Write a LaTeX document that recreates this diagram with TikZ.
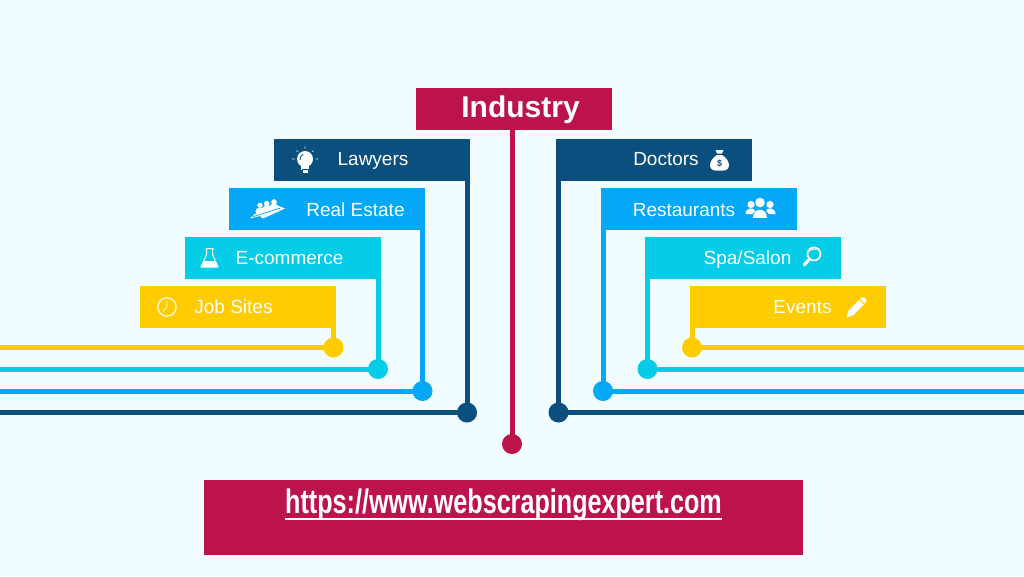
\documentclass[tikz,border=0pt]{standalone}
\usepackage{fontspec}
\usepackage{xcolor}
\setmainfont{Liberation Sans}
\newfontfamily\urlfont[FakeStretch=0.74]{Liberation Sans Bold}
\usepackage{tikz}
\usetikzlibrary{positioning}
\definecolor{pagebg}{HTML}{F0FCFF}
\definecolor{navyc}{HTML}{0A4F7E}
\definecolor{bluec}{HTML}{05A8F7}
\definecolor{cyanc}{HTML}{05CDE8}
\definecolor{goldc}{HTML}{FFCC00}
\definecolor{crimsonc}{HTML}{BC134B}
\tikzset{
  bulbicon/.pic={
    \fill[white] (0,-2) circle (8);
    \fill[white] (-4,3) rectangle (4,9);
    \fill[white] (-2.5,9) rectangle (2.5,12);
    \draw[navyc, line width=0.8pt] (-4.9,-1.1) arc (170:250:5);
    \draw[navyc, line width=0.6pt] (-3.5,8) -- (3.5,8);
    \draw[white, line width=0.6pt] (0,-12.5) -- (0,-14.5) (8.5,-10.5) -- (7,-9) (-8.5,-10.5) -- (-7,-9)
      (-13,-2) -- (-10.5,-2) (10.5,-2) -- (13,-2);
  },
  teamicon/.pic={
    \fill[white] (7,-6) circle (2.8) (-0.3,-4.3) circle (2.8) (-7,-2.7) circle (2.6);
    \fill[white] (7,0) ellipse (5 and 4.5) (-0.3,2) ellipse (5 and 4.5) (-7,3.5) ellipse (4.5 and 4);
    \fill[white] (-17,10.5) -- (-12,6) -- (12,-2) -- (18,0.5) -- (-4,10.5) -- (-7,8) -- cycle;
    \draw[bluec, line width=0.7pt] (-14,8.7) -- (13,0.2);
  },
  flaskicon/.pic={
    \draw[white, line width=1pt, line join=round] (-4,-8) -- (4,-8) (-3,-8) -- (-3,-2) -- (-8.5,10.5) -- (8.5,10.5) -- (3,-2) -- (3,-8);
    \fill[white] (-5.8,4.5) -- (5.8,4.5) -- (8.5,10.5) -- (-8.5,10.5) -- cycle;
  },
  clockicon/.pic={
    \draw[white, line width=1.1pt] (0,0) circle (9.2);
    \draw[white, line width=0.8pt] (0,-6.5) -- (0,0) -- (-4,4);
  },
  bagicon/.pic={
    \fill[white] (-2.5,-6) .. controls (-12,0) and (-11,9.5) .. (-4,9.5) -- (4,9.5) .. controls (11,9.5) and (12,0) .. (2.5,-6) -- cycle;
    \fill[white] (-4,-11) -- (4,-11) -- (2.5,-7.5) -- (-2.5,-7.5) -- cycle;
    \node[signtext] (dollarsign) at (0,2) {\$};
  },
  crowdicon/.pic={
    \fill[white] (-1,-5.5) circle (4.8) (-10,-3.5) circle (3.6) (9,-3.5) circle (3.6);
    \fill[white] (-8.3,10) .. controls (-8.3,-1) and (6.3,-1) .. (6.3,10) -- cycle;
    \fill[white] (-15.5,6) .. controls (-15.5,-1) and (-6,-1) .. (-6,3) -- (-9,6) -- cycle;
    \fill[white] (14.5,6) .. controls (14.5,-1) and (5,-1) .. (5,3) -- (8,6) -- cycle;
  },
  lensicon/.pic={
    \draw[white, line width=1.7pt] (2,-3) circle (6.5);
    \draw[white, line width=3pt, line cap=round] (-2.5,2) -- (-7.7,8);
    \draw[white, line width=0.6pt] (-2.3,-5.5) arc (210:300:5);
  },
  pencilicon/.pic={
    \fill[white] (-10,10.5) -- (-8,3.5) -- (2.5,-7) -- (7.2,-2.3) -- (-3.3,8.3) -- cycle;
    \fill[white] (3.6,-8.1) -- (5.8,-9.7) .. controls (7.5,-10.5) and (10.5,-7.5) .. (9.8,-5.8) -- (8.3,-3.4) -- cycle;
  }
}
\begin{document}
\begin{tikzpicture}[
    x=1pt, y=-1pt,
    tab/.style={rectangle, minimum width=196pt, minimum height=42pt, inner sep=0pt, outer sep=0pt},
    dot/.style={circle, minimum size=20pt, inner sep=0pt, outer sep=-1pt},
    label text/.style={anchor=base, inner sep=0pt, text=white, font=\fontsize{19}{19}\selectfont},
    signtext/.style={inner sep=0pt, text=navyc, font=\fontsize{9}{9}\selectfont\bfseries},
    rail/.style={line width=5pt},
  ]

  \fill[pagebg] (0,0) rectangle (1024,576);
  \useasboundingbox (0,0) rectangle (1024,576);

  \node[tab, fill=crimsonc] (industry) at (513.5,109) {};
  \node[tab, fill=navyc] (lawyers) at (371.5,160) {};
  \node[tab, fill=bluec] (realestate) at (327,209) {};
  \node[tab, fill=cyanc] (ecommerce) at (282.5,258) {};
  \node[tab, fill=goldc] (jobsites) at (238,307) {};
  \node[tab, fill=navyc] (doctors) at (653.75,160) {};
  \node[tab, fill=bluec] (restaurants) at (698.5,209) {};
  \node[tab, fill=cyanc] (spasalon) at (743,258) {};
  \node[tab, fill=goldc] (events) at (787.5,307) {};
  \node[rectangle, fill=crimsonc, minimum width=599pt, minimum height=75pt, inner sep=0pt] (banner) at (503.5,517.5) {};

  \node[dot, fill=crimsonc] (industrydot) at (512,444) {};
  \node[dot, fill=navyc] (lawyersdot) at (467,412.5) {};
  \node[dot, fill=bluec] (realestatedot) at (422.5,391) {};
  \node[dot, fill=cyanc] (ecommercedot) at (378,369) {};
  \node[dot, fill=goldc] (jobsitesdot) at (333.5,347.5) {};
  \node[dot, fill=navyc] (doctorsdot) at (558.5,412.5) {};
  \node[dot, fill=bluec] (restaurantsdot) at (603,391) {};
  \node[dot, fill=cyanc] (spasalondot) at (647.5,369) {};
  \node[dot, fill=goldc] (eventsdot) at (692,347.5) {};

  \coordinate (lawyersend) at (0,412.5);
  \coordinate (realestateend) at (0,391);
  \coordinate (ecommerceend) at (0,369);
  \coordinate (jobsitesend) at (0,347.5);
  \coordinate (doctorsend) at (1024,412.5);
  \coordinate (restaurantsend) at (1024,391);
  \coordinate (spasalonend) at (1024,369);
  \coordinate (eventsend) at (1024,347.5);

  \draw[rail, crimsonc] (industry.south -| industrydot) -- (industrydot);
  \draw[rail, navyc] (lawyers.south -| lawyersdot) -- (lawyersdot);
  \draw[rail, navyc] (lawyersdot) -- (lawyersend);
  \draw[rail, bluec] (realestate.south -| realestatedot) -- (realestatedot);
  \draw[rail, bluec] (realestatedot) -- (realestateend);
  \draw[rail, cyanc] (ecommerce.south -| ecommercedot) -- (ecommercedot);
  \draw[rail, cyanc] (ecommercedot) -- (ecommerceend);
  \draw[rail, goldc] (jobsites.south -| jobsitesdot) -- (jobsitesdot);
  \draw[rail, goldc] (jobsitesdot) -- (jobsitesend);
  \draw[rail, navyc] (doctors.south -| doctorsdot) -- (doctorsdot);
  \draw[rail, navyc] (doctorsdot) -- (doctorsend);
  \draw[rail, bluec] (restaurants.south -| restaurantsdot) -- (restaurantsdot);
  \draw[rail, bluec] (restaurantsdot) -- (restaurantsend);
  \draw[rail, cyanc] (spasalon.south -| spasalondot) -- (spasalondot);
  \draw[rail, cyanc] (spasalondot) -- (spasalonend);
  \draw[rail, goldc] (events.south -| eventsdot) -- (eventsdot);
  \draw[rail, goldc] (eventsdot) -- (eventsend);

  \node[label text, font=\fontsize{30}{30}\selectfont\bfseries] (industrytext) at (520.5,117) {Industry};
  \node[label text] (lawyerstext) at (373,165) {Lawyers};
  \node[label text] (realestatetext) at (355.5,216) {Real Estate};
  \node[label text] (ecommercetext) at (289.5,264.5) {E-commerce};
  \node[label text] (jobsitestext) at (233.5,313.5) {Job Sites};
  \node[label text] (doctorstext) at (666,165) {Doctors};
  \node[label text] (restaurantstext) at (684,216) {Restaurants};
  \node[label text] (spasalontext) at (747.5,264.5) {Spa/Salon};
  \node[label text] (eventstext) at (802.5,313.5) {Events};
  \node[label text, font=\fontsize{34}{34}\urlfont] (urltext) at (503.5,513) {https://www.webscrapingexpert.com};
  \draw[white, line width=1.5pt] ([yshift=-6pt]urltext.base west) -- ([yshift=-6pt]urltext.base east);

  \pic at (305,161) {bulbicon};
  \pic at (267,208) {teamicon};
  \pic at (209.5,256.5) {flaskicon};
  \pic at (167,307) {clockicon};
  \pic at (719.5,161) {bagicon};
  \pic at (761,208) {crowdicon};
  \pic at (812,257) {lensicon};
  \pic at (856.5,307) {pencilicon};

\end{tikzpicture}
\end{document}
